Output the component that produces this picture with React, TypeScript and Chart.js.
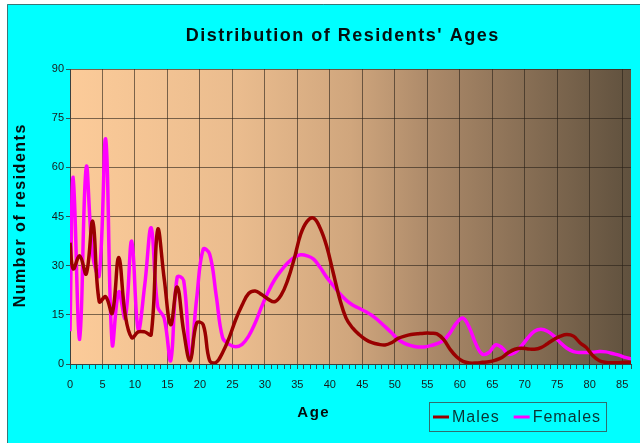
import React, { useEffect, useRef } from 'react';
import { Chart, registerables } from 'chart.js';

Chart.register(...registerables);

// Age positions (years) of the plotted points
const ages = [
  0, 0.5, 1.5, 2.5, 3.5, 4.5, 5.5, 6.5, 7.5, 8.5, 9.5,
  10.5, 11.5, 12.5, 13.5, 14.5, 15.5, 16.5, 17.5, 18.5, 19.5,
  20.5, 21.5, 22.5, 23.5, 24.5, 25.5, 26.5, 27.5, 28.5, 29.5,
  30.5, 31.5, 32.5, 33.5, 34.5, 35.5, 36.5, 37.5, 38.5, 39.5,
  40.5, 41.5, 42.5, 43.5, 44.5, 45.5, 46.5, 47.5, 48.5, 49.5,
  50.5, 51.5, 52.5, 53.5, 54.5, 55.5, 56.5, 57.5, 58.5, 59.5,
  60.5, 61.5, 62.5, 63.5, 64.5, 65.5, 66.5, 67.5, 68.5, 69.5,
  70.5, 71.5, 72.5, 73.5, 74.5, 75.5, 76.5, 77.5, 78.5, 79.5,
  80.5, 81.5, 82.5, 83.5, 84.5, 85.5, 86.5,
];

const males = [
  37, 29, 33, 27.5, 43.5, 19, 20.5, 15.5, 32.5, 15, 8,
  9.8, 9.8, 9, 41, 26, 12, 23.5, 10, 1, 12.5,
  12, 1, 0.5, 3.5, 8, 13.5, 18, 21.5, 22.3, 21.2,
  19.8, 19, 21, 25.5, 32, 39.5, 43.5, 44.5, 41.5, 36,
  28, 20, 14, 11, 9, 7.5, 6.5, 6, 5.8, 6.5,
  7.8, 8.5, 9, 9.2, 9.4, 9.4, 9.2, 7.5, 4.5, 2.2,
  0.8, 0.3, 0.3, 0.5, 0.7, 1.2, 2, 3.5, 4.5, 4.8,
  4.6, 4.5, 5, 6.2, 7.5, 8.5, 9, 8.5, 6.5, 5,
  2.5, 1, 0.5, 0.4, 0.4, 0.5, 0.5,
];

const females = [
  10, 57, 7.5, 60, 33, 27, 68.5, 6, 22, 14, 37.5,
  10.5, 24, 41.5, 17.5, 14, 1, 26.5, 25.5, 2, 20,
  35, 33.5, 21, 8, 6, 5.3, 6, 8.5, 12.5, 17.5,
  22, 25.7, 28.5, 30.8, 32.5, 33.3, 33, 32, 29.5, 26.5,
  24, 21.5, 19.5, 18, 17, 16, 14.8, 13.2, 11.4, 9.5,
  7.5, 6.3, 5.6, 5.2, 5.2, 5.6, 6.2, 7.2, 9.5, 12.5,
  14, 11, 6, 3, 3.5, 5.8, 5, 3, 3.5, 5.5,
  8, 10, 10.6, 10, 8.5, 6.5, 4.8, 3.8, 3.5, 3.5,
  3.6, 3.8, 3.7, 3.2, 2.7, 2, 1.5,
];

const seriesNames = ['Males', 'Females'];
const seriesColors = ['#990000', '#ff00ff'];
const chartTitle = "Distribution of Residents' Ages";
const xTitle = 'Age';
const yTitle = 'Number of residents';
const xMin = 0;
const xMax = 86.36;
const xLabelStep = 5;
const yMin = 0;
const yMax = 90;
const yStep = 15;

const FONT = "'Liberation Sans', Arial, sans-serif";
const gridColor = 'rgba(40,32,24,0.6)';

function spaced(ctx: any, text: string, x: number, y: number, spacing: number) {
  ctx.letterSpacing = spacing + 'px';
  ctx.fillText(text, x + spacing / 2, y);
  ctx.letterSpacing = '0px';
}

const backgroundPlugin = {
  id: 'bgPlot',
  beforeDraw(chart: any) {
    const { ctx, chartArea: a, width, height } = chart;
    ctx.save();
    ctx.fillStyle = '#ffffff';
    ctx.fillRect(0, 0, width, height);
    ctx.fillStyle = '#00ffff';
    ctx.fillRect(7, 4, width - 7, height - 4);
    ctx.strokeStyle = '#3a7878';
    ctx.lineWidth = 1;
    ctx.beginPath();
    ctx.moveTo(7.5, height);
    ctx.lineTo(7.5, 4.5);
    ctx.lineTo(width, 4.5);
    ctx.stroke();
    const g = ctx.createLinearGradient(a.left, 0, a.right, 0);
    g.addColorStop(0, 'rgb(252,203,153)');
    g.addColorStop(0.3, 'rgb(234,188,142)');
    g.addColorStop(0.5, 'rgb(208,166,125)');
    g.addColorStop(0.65, 'rgb(170,136,104)');
    g.addColorStop(1, 'rgb(96,81,62)');
    ctx.fillStyle = g;
    ctx.fillRect(a.left, a.top, a.right - a.left, a.bottom - a.top);
    ctx.restore();
  },
};

const textPlugin = {
  id: 'texts',
  afterDraw(chart: any) {
    const { ctx } = chart;
    ctx.save();
    ctx.fillStyle = '#050f0f';
    ctx.textAlign = 'center';
    ctx.textBaseline = 'middle';
    ctx.font = `bold 18px ${FONT}`;
    spaced(ctx, chartTitle, 342, 36, 1.5);
    ctx.font = `bold 15px ${FONT}`;
    spaced(ctx, xTitle, 313, 413, 1.5);
    ctx.save();
    ctx.translate(21, 216);
    ctx.rotate(-Math.PI / 2);
    ctx.font = `bold 16px ${FONT}`;
    spaced(ctx, yTitle, 0, 0, 1.5);
    ctx.restore();

    // legend
    const bx = 429.5, by = 402.5, bw = 177, bh = 29;
    ctx.strokeStyle = '#2f6f6f';
    ctx.lineWidth = 1;
    ctx.strokeRect(bx, by, bw, bh);
    ctx.font = `16px ${FONT}`;
    ctx.textAlign = 'left';
    let x = 433;
    const yMid = 417;
    chart.data.datasets.forEach((ds: any) => {
      ctx.strokeStyle = ds.borderColor;
      ctx.lineWidth = 3;
      ctx.beginPath();
      ctx.moveTo(x, yMid);
      ctx.lineTo(x + 16, yMid);
      ctx.stroke();
      x += 19;
      ctx.fillStyle = '#0a3535';
      ctx.letterSpacing = '1px';
      ctx.fillText(ds.label, x, yMid + 1);
      const w = ctx.measureText(ds.label).width;
      ctx.letterSpacing = '0px';
      x += w + 14;
    });
    ctx.restore();
  },
};

export default function App() {
  const ref = useRef<HTMLCanvasElement | null>(null);
  useEffect(() => {
    const canvas = ref.current;
    if (!canvas) return;
    Chart.defaults.font.family = FONT;
    const datasets = [males, females].map((vals, k) => ({
      label: seriesNames[k],
      data: ages.map((a, i) => ({ x: a, y: vals[i] })),
      borderColor: seriesColors[k],
      backgroundColor: seriesColors[k],
      borderWidth: 3.5,
      pointRadius: 0,
      tension: 0.4,
      fill: false,
    }));
    const chart = new Chart(canvas, {
      type: 'line',
      data: { datasets },
      options: {
        responsive: false,
        animation: false,
        devicePixelRatio: 1,
        layout: { padding: { top: 69, left: 0, right: 0, bottom: 0 } },
        plugins: {
          legend: { display: false },
          title: { display: false },
          tooltip: { enabled: false },
        },
        scales: {
          x: {
            type: 'linear',
            min: xMin,
            max: xMax,
            afterFit: (s: any) => { s.height = 79; },
            ticks: {
              stepSize: 1,
              autoSkip: false,
              maxRotation: 0,
              minRotation: 0,
              padding: 9,
              color: '#1a1a1a',
              font: { size: 11 },
              callback: (v: any) => (Number(v) % xLabelStep === 0 ? String(v) : ''),
            },
            grid: {
              color: (c: any) =>
                c.tick && Number(c.tick.value) % xLabelStep === 0 && c.tick.value > 0 ? gridColor : 'rgba(0,0,0,0)',
              tickColor: '#2a5858',
              tickLength: 5,
              lineWidth: 1,
            },
            border: { display: true, color: '#3a4040', width: 1 },
          },
          y: {
            type: 'linear',
            min: yMin,
            max: yMax,
            afterFit: (s: any) => { s.width = 70; },
            ticks: { stepSize: yStep, padding: 2, color: '#1a1a1a', font: { size: 11 } },
            grid: { color: gridColor, tickColor: '#2a5858', tickLength: 4, lineWidth: 1 },
            border: { display: true, color: '#3a4040', width: 1 },
          },
        },
      },
      plugins: [backgroundPlugin, textPlugin],
    } as any);
    return () => chart.destroy();
  }, []);
  return (
    <div style={{ position: 'fixed', left: 0, top: 0, width: 640, height: 443 }}>
      <canvas ref={ref} width={640} height={443} style={{ display: 'block', width: 640, height: 443 }} />
    </div>
  );
}
